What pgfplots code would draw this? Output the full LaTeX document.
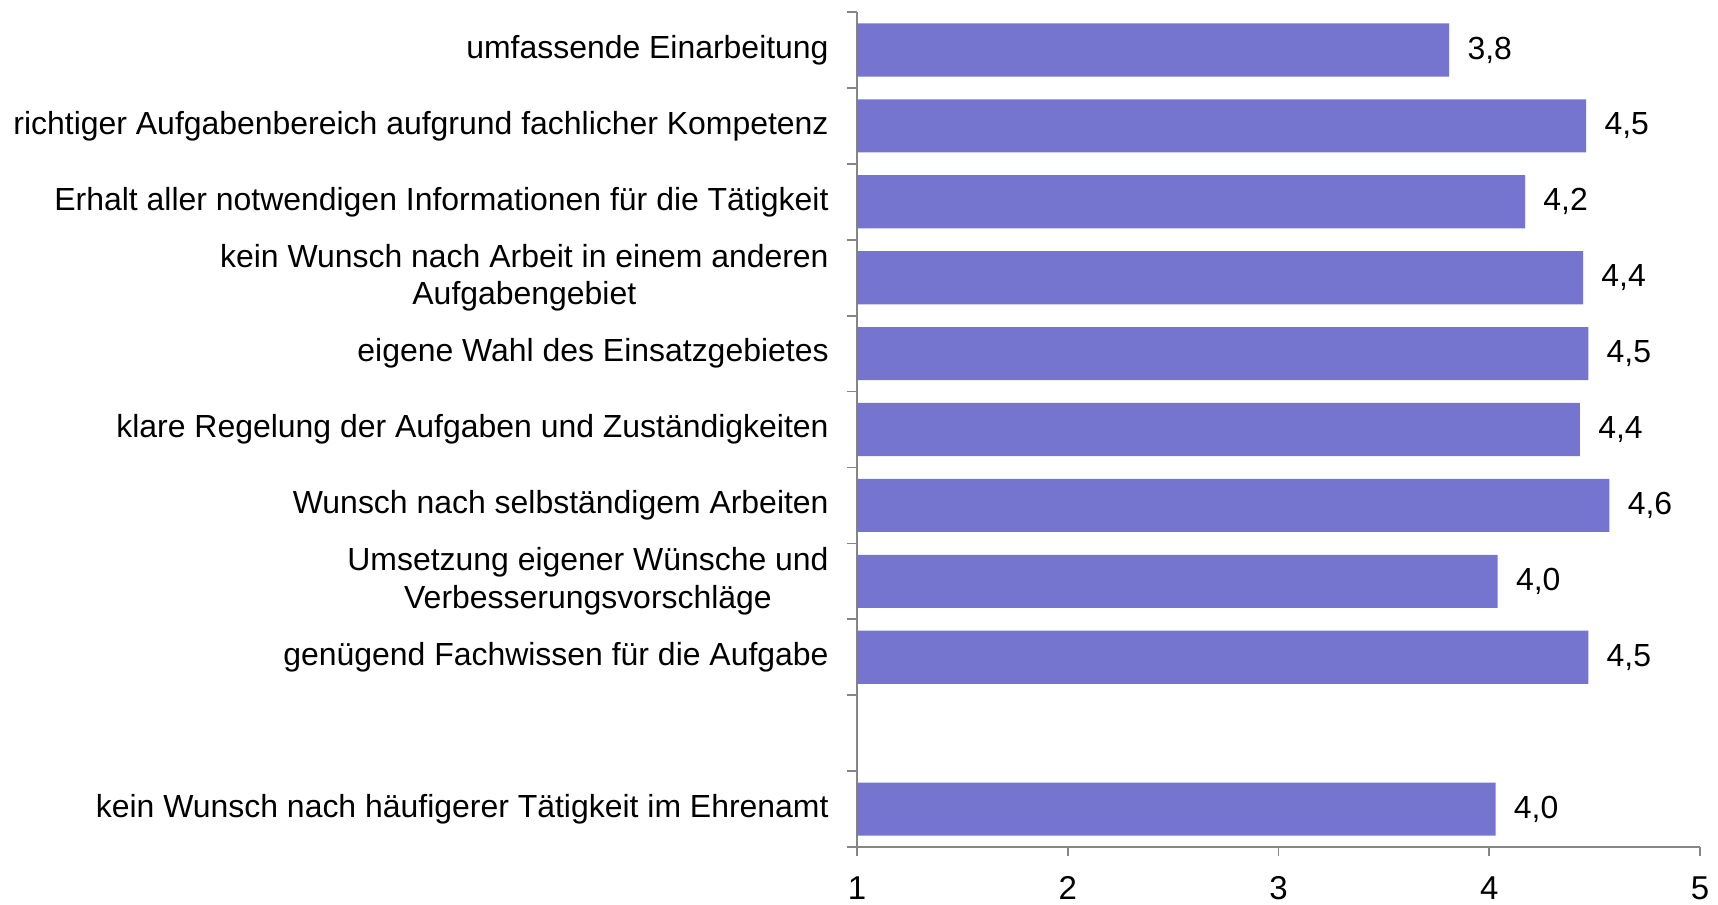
\documentclass[border=0pt]{standalone}
\usepackage{pgfplots}
\pgfplotsset{compat=1.18}
\usepackage{fontspec}
\setmainfont{Liberation Sans}
\definecolor{barblue}{HTML}{7575D0}
\definecolor{axgrey}{HTML}{868686}

\begin{document}
\begin{tikzpicture}
% fixed frame: axis box is 8.44 x 8.36 cm with its lower left corner at the origin
\useasboundingbox (-8.58cm,-0.58cm) rectangle (8.62cm,8.48cm);
\begin{axis}[
 at={(0,0)}, anchor=south west,
 scale only axis,
 width=8.44cm, height=8.36cm,
 xbar, bar width=0.7,
 y dir=reverse,
 xmin=1, xmax=5,
 ymin=-0.5, ymax=10.5,
 axis lines*=left,
 axis line style={axgrey, line width=0.5pt, -},
 every tick/.style={axgrey, line width=0.5pt},
 tick align=outside,
 major tick length=0.09cm,
 minor tick length=0.1cm,
 xtick={1,2,3,4,5},
 ytick={0,1,2,3,4,5,6,7,8,10},
 minor ytick={-0.5,0.5,...,10.5},
 major y tick style={draw=none},
 yticklabels={
  {umfassende Einarbeitung},
  {richtiger Aufgabenbereich aufgrund fachlicher Kompetenz},
  {Erhalt aller notwendigen Informationen für die Tätigkeit},
  {kein Wunsch nach Arbeit in einem anderen\\Aufgabengebiet},
  {eigene Wahl des Einsatzgebietes},
  {klare Regelung der Aufgaben und Zuständigkeiten},
  {Wunsch nach selbständigem Arbeiten},
  {Umsetzung eigener Wünsche und\\Verbesserungsvorschläge},
  {genügend Fachwissen für die Aufgabe},
  {kein Wunsch nach häufigerer Tätigkeit im Ehrenamt}},
 yticklabel style={align=center, font=\fontsize{9.1}{10.6}\selectfont, xshift=-0.07cm},
 xticklabel style={font=\fontsize{9.4}{11}\selectfont, yshift=-0.08cm},
 /pgf/number format/assume math mode=true,
 nodes near coords,
 nodes near coords style={font=\fontsize{9.1}{11}\selectfont, black, xshift=0.06cm,
  /pgf/number format/.cd, fixed, fixed zerofill, precision=1, use comma},
 clip=false,
]
\addplot[draw=none, fill=barblue] coordinates {
 (3.81,0) (4.46,1) (4.17,2) (4.445,3) (4.47,4) (4.43,5)
 (4.57,6) (4.04,7) (4.47,8) (4.03,10)};
\end{axis}
\end{tikzpicture}
\end{document}
